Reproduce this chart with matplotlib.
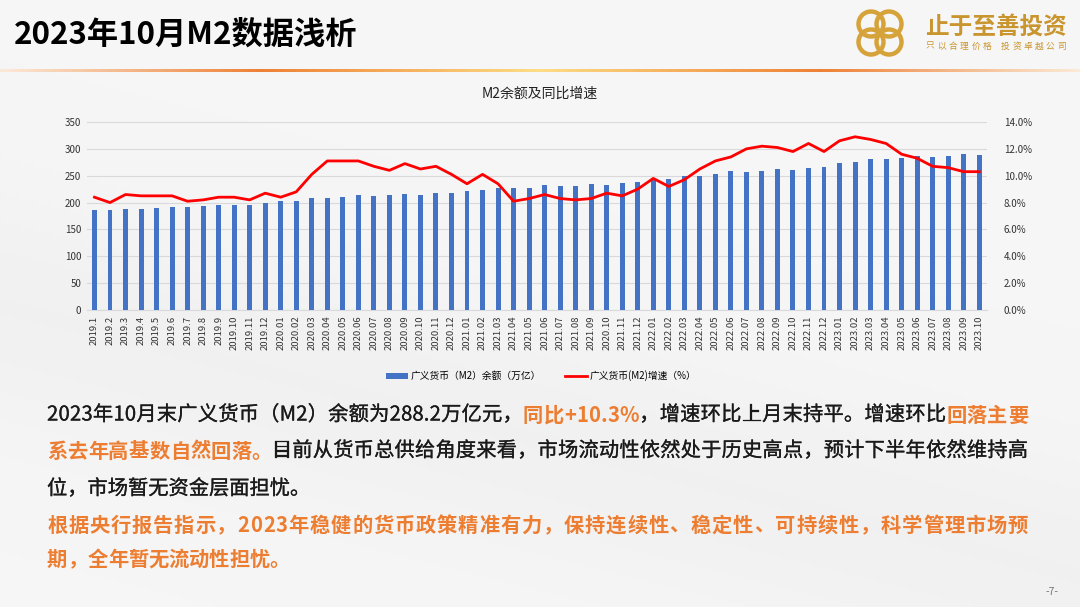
import matplotlib
matplotlib.use("Agg")
import matplotlib.pyplot as plt
import numpy as np
from matplotlib.patches import Circle, Patch
from matplotlib.lines import Line2D
from matplotlib.colors import LinearSegmentedColormap
import matplotlib.patheffects as pe

plt.rcParams['font.family'] = ['Noto Sans CJK SC', 'DejaVu Sans']

# ---------------- data ----------------
labels = (["2019.%d" % m for m in range(1, 13)] +
          ["2020.%02d" % m for m in range(1, 13)] +
          ["2021.%02d" % m for m in range(1, 13)] +
          ["2022.%02d" % m for m in range(1, 13)] +
          ["2023.%02d" % m for m in range(1, 11)])
labels[33] = "2020.10"  # label as printed in the original chart

m2_balance = [186.6, 186.7, 188.9, 188.4, 189.1, 192.1, 191.9, 193.5, 195.2, 194.6, 196.1, 198.6,
              202.3, 203.1, 208.1, 209.4, 210.0, 213.5, 212.6, 213.7, 216.4, 215.0, 217.2, 218.7,
              221.3, 223.6, 227.7, 226.2, 227.6, 231.8, 230.2, 231.2, 234.3, 233.6, 235.6, 238.3,
              243.1, 244.1, 249.8, 249.9, 252.7, 258.1, 257.8, 259.5, 262.7, 261.2, 264.7, 266.4,
              273.8, 275.5, 281.5, 280.9, 282.1, 287.3, 285.4, 287.0, 289.7, 288.2]
m2_growth = [8.4, 8.0, 8.6, 8.5, 8.5, 8.5, 8.1, 8.2, 8.4, 8.4, 8.2, 8.7,
             8.4, 8.8, 10.1, 11.1, 11.1, 11.1, 10.7, 10.4, 10.9, 10.5, 10.7, 10.1,
             9.4, 10.1, 9.4, 8.1, 8.3, 8.6, 8.3, 8.2, 8.3, 8.7, 8.5, 9.0,
             9.8, 9.2, 9.7, 10.5, 11.1, 11.4, 12.0, 12.2, 12.1, 11.8, 12.4, 11.8,
             12.6, 12.9, 12.7, 12.4, 11.6, 11.3, 10.7, 10.6, 10.3, 10.3]

left_ticks = [0, 50, 100, 150, 200, 250, 300, 350]
right_ticks = [0, 2, 4, 6, 8, 10, 12, 14]

W, H = 1080, 607
fig = plt.figure(figsize=(W / 100, H / 100), dpi=100)
fig.patch.set_facecolor('#F5F5F5')

# background subtle swoosh
bg = fig.add_axes([0, 0, 1, 1], zorder=-10)
bg.set_xlim(0, W); bg.set_ylim(H, 0); bg.axis('off')
yy, xx = np.mgrid[0:H:4, 0:W:4]
shade = 0.965 - 0.02 * np.exp(-((yy - 380 - 0.25 * (xx - 300)) / 120.0) ** 2)
bg.imshow(np.dstack([shade, shade, shade]), extent=[0, W, H, 0], aspect='auto', zorder=-10)

# header gradient line
cmap = LinearSegmentedColormap.from_list('hdr', [
    (0.0, '#FBE9D8'), (0.24, '#EE8136'), (0.5, '#FDDD86'), (0.76, '#EE8136'), (1.0, '#FBEAD6')])
grad = np.linspace(0, 1, 512)[None, :]
bg.imshow(grad, extent=[0, W, 72.5, 69.5], cmap=cmap, aspect='auto', zorder=-5)

# logo rings
gold = '#D6A33A'
cx, cy, r = 880, 33, 12.5
for dx, dy in [(-9, -9), (9, -9), (-9, 9), (9, 9)]:
    bg.add_patch(Circle((cx + dx, cy + dy), r, fill=False, ec=gold, lw=3.2, zorder=2))

fig.text(925 / W, 1 - 27 / H, "止于至善投资", fontsize=17, fontweight='bold', color='#C9952E',
         ha='left', va='center')
sub = "只以合理价格  投资卓越公司"
sx = 926
for ch in sub:
    if ch != ' ':
        fig.text(sx / W, 1 - 46 / H, ch, fontsize=6.3, color='#C9952E', ha='left', va='center')
    sx += 11.3 if ch != ' ' else 3.5

# title
fig.text(14 / W, 1 - 35 / H, "2023年10月M2数据浅析", fontsize=22.5, fontweight='bold',
         color='#000000', ha='left', va='center')

# ---------------- chart ----------------
ax = fig.add_axes([86.7 / W, 1 - 310 / H, (987 - 86.7) / W, (310 - 122) / H])
ax.patch.set_alpha(0)
x = np.arange(len(labels))
ax.bar(x, m2_balance, width=0.32, color='#4472C4', zorder=3)
ax.set_xlim(-0.5, len(labels) - 0.5)
ax.set_ylim(0, 350)
ax.set_yticks(left_ticks)
ax.set_yticklabels([str(v) for v in left_ticks], fontsize=7, color='#333333')
ax.set_xticks(x)
ax.set_xticklabels(labels, rotation=90, fontsize=6.8, color='#333333')
ax.tick_params(length=0, pad=4)
ax.grid(axis='y', color='#D9D9D9', lw=0.8, zorder=0)
for s in ['top', 'left', 'right']:
    ax.spines[s].set_visible(False)
ax.spines['bottom'].set_color('#D9D9D9')

ax2 = ax.twinx()
ax2.plot(x, m2_growth, color='#FF0000', lw=2.0, zorder=4)
ax2.set_ylim(0, 14)
ax2.set_yticks(right_ticks)
ax2.set_yticklabels(["%.1f%%" % v for v in right_ticks], fontsize=7, color='#333333')
ax2.tick_params(length=0, pad=12)
for s in ['top', 'left', 'right', 'bottom']:
    ax2.spines[s].set_visible(False)

fig.text(540 / W, 1 - 94 / H, "M2余额及同比增速", fontsize=10, color='#222222',
         ha='center', va='center')

handles = [Patch(facecolor='#4472C4', edgecolor='none'),
           Line2D([0], [0], color='#FF0000', lw=2)]
fig.legend(handles, ["广义货币（M2）余额（万亿）", "广义货币(M2)增速（%）"],
           loc='center', bbox_to_anchor=(541 / W, 1 - 376 / H), ncol=2, frameon=False,
           fontsize=7, handlelength=2.3, handleheight=0.6, columnspacing=2.5, handletextpad=0.2)

# ---------------- body text ----------------
BLACK = '#1A1A1A'
ORANGE = '#ED7D31'
lines = [
    (415, True, [("2023年10月末广义货币（M2）余额为288.2万亿元，", BLACK, 'normal'),
                 ("同比+10.3%", ORANGE, 'bold'),
                 ("，增速环比上月末持平。增速环比", BLACK, 'normal'),
                 ("回落主要", ORANGE, 'bold')]),
    (451, True, [("系去年高基数自然回落。", ORANGE, 'bold'),
                 ("目前从货币总供给角度来看，市场流动性依然处于历史高点，预计下半年依然维持高", BLACK, 'normal')]),
    (489, False, [("位，市场暂无资金层面担忧。", BLACK, 'normal')]),
    (525, True, [("根据央行报告指示，2023年稳健的货币政策精准有力，保持连续性、稳定性、可持续性，科学管理市场预", ORANGE, 'bold')]),
    (559, False, [("期，全年暂无流动性担忧。", ORANGE, 'bold')]),
]
renderer = fig.canvas.get_renderer()
X0, X1 = 47.0, 1028.0
FS = 14.6
for ypix, justify, runs in lines:
    chars = []
    for s, c, wt in runs:
        for ch in s:
            t = fig.text(0, 1 - ypix / H, ch, fontsize=FS, color=c, fontweight=wt,
                         ha='left', va='center')
            if wt == 'normal':
                t.set_path_effects([pe.withStroke(linewidth=0.18, foreground=c)])
            w = t.get_window_extent(renderer).width
            chars.append((t, w))
    total = sum(w for _, w in chars)
    gap = (X1 - X0 - total) / (len(chars) - 1) if justify else 0.0
    gap = max(gap, 0.0)
    xp = X0
    for t, w in chars:
        t.set_x(xp / W)
        xp += w + gap

fig.text(1052 / W, 1 - 592 / H, "-7-", fontsize=7.5, color='#777777', ha='center', va='center')

fig.savefig("out.png", dpi=100, facecolor=fig.get_facecolor())
